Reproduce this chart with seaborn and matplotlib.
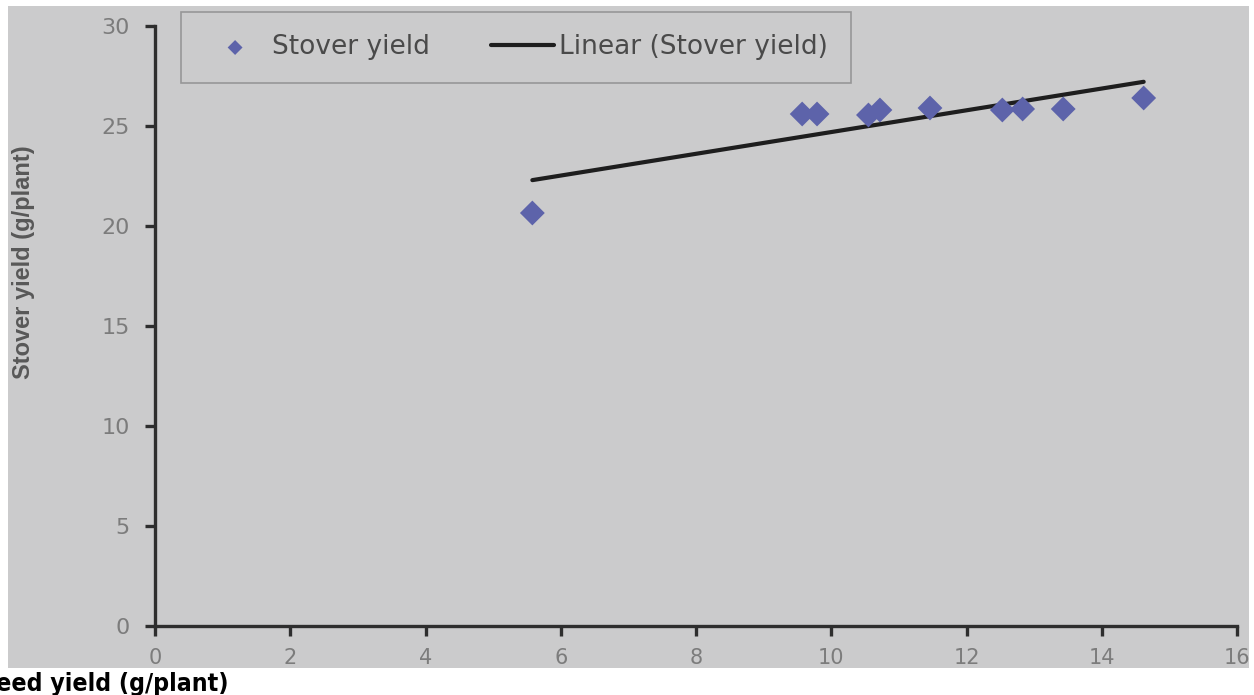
import numpy as np
import pandas as pd
import matplotlib
matplotlib.use("Agg")
import matplotlib.pyplot as plt
from matplotlib.patches import Rectangle
import seaborn as sns

# Seed yield vs stover yield (g/plant)
seed_yield = [5.58, 9.57, 9.79, 10.55, 10.72, 11.46, 12.53, 12.83, 13.43, 14.62]
stover_yield = [20.65, 25.6, 25.6, 25.55, 25.8, 25.9, 25.8, 25.85, 25.85, 26.4]
x_ticks = [0, 2, 4, 6, 8, 10, 12, 14, 16]
y_ticks = [0, 5, 10, 15, 20, 25, 30]

df = pd.DataFrame({"seed": seed_yield, "stover": stover_yield})

sns.set_theme(style="white")
plt.rcParams["font.family"] = ["DejaVu Sans"]

W, H = 1254, 695
fig = plt.figure(figsize=(W / 100, H / 100), dpi=100, facecolor="white")

# grey paper background of the plot area
fig.patches.append(Rectangle((8 / W, (H - 668) / H), (1249 - 8) / W, (668 - 6) / H,
                             transform=fig.transFigure, facecolor="#cbcbcc",
                             edgecolor="none", zorder=-10))

ax = fig.add_axes([155 / W, (H - 626) / H, 1082 / W, 600 / H])
ax.set_facecolor("none")
ax.set_zorder(1)

sns.scatterplot(data=df, x="seed", y="stover", ax=ax, marker="D", s=160,
                color="#5d63aa", edgecolor="none", label="Stover yield", zorder=3)
sns.regplot(data=df, x="seed", y="stover", ax=ax, scatter=False, ci=None,
            truncate=True, color="#1e1e1e", line_kws={"lw": 3.0, "zorder": 2},
            label="Linear (Stover yield)")

ax.set_xlim(0, 16)
ax.set_ylim(0, 30)
ax.set_xticks(x_ticks)
ax.set_yticks(y_ticks)
ax.set_xlabel("")
ax.set_ylabel("")

for side in ["top", "right"]:
    ax.spines[side].set_visible(False)
for side in ["left", "bottom"]:
    ax.spines[side].set_color("#2e2e2e")
    ax.spines[side].set_linewidth(2.4)
ax.tick_params(axis="both", which="major", direction="out", length=7, width=2.4,
               color="#2e2e2e", labelcolor="#7c7c7c", labelsize=16,
               bottom=True, left=True)
ax.tick_params(axis="x", pad=9, labelsize=15)
ax.tick_params(axis="y", pad=11)

leg = ax.legend(loc="upper left", bbox_to_anchor=(181 / W, 1 - 12 / H),
                bbox_transform=fig.transFigure, borderaxespad=0, ncol=2,
                fontsize=19, frameon=True, fancybox=False, borderpad=0.85,
                columnspacing=2.3, handlelength=2.4, handletextpad=0.2,
                markerscale=0.6)
leg.get_frame().set_facecolor("#cbcbcc")
leg.get_frame().set_edgecolor("#8a8a8a")
leg.get_frame().set_linewidth(1.2)
for t in leg.get_texts():
    t.set_color("#4a4a4a")

fig.text(24 / W, (H - 262) / H, "Stover yield (g/plant)", rotation=90,
         ha="center", va="center", fontsize=17, fontweight="bold",
         color="#585858", family=["Liberation Sans", "DejaVu Sans"])
fig.text(228 / W, (H - 684) / H, "Seed yield (g/plant)", ha="right", va="center",
         fontsize=17.8, fontweight="heavy", color="black",
         family=["DejaVu Sans"], fontstretch="condensed")

fig.savefig("out.png", dpi=100, facecolor="white")
